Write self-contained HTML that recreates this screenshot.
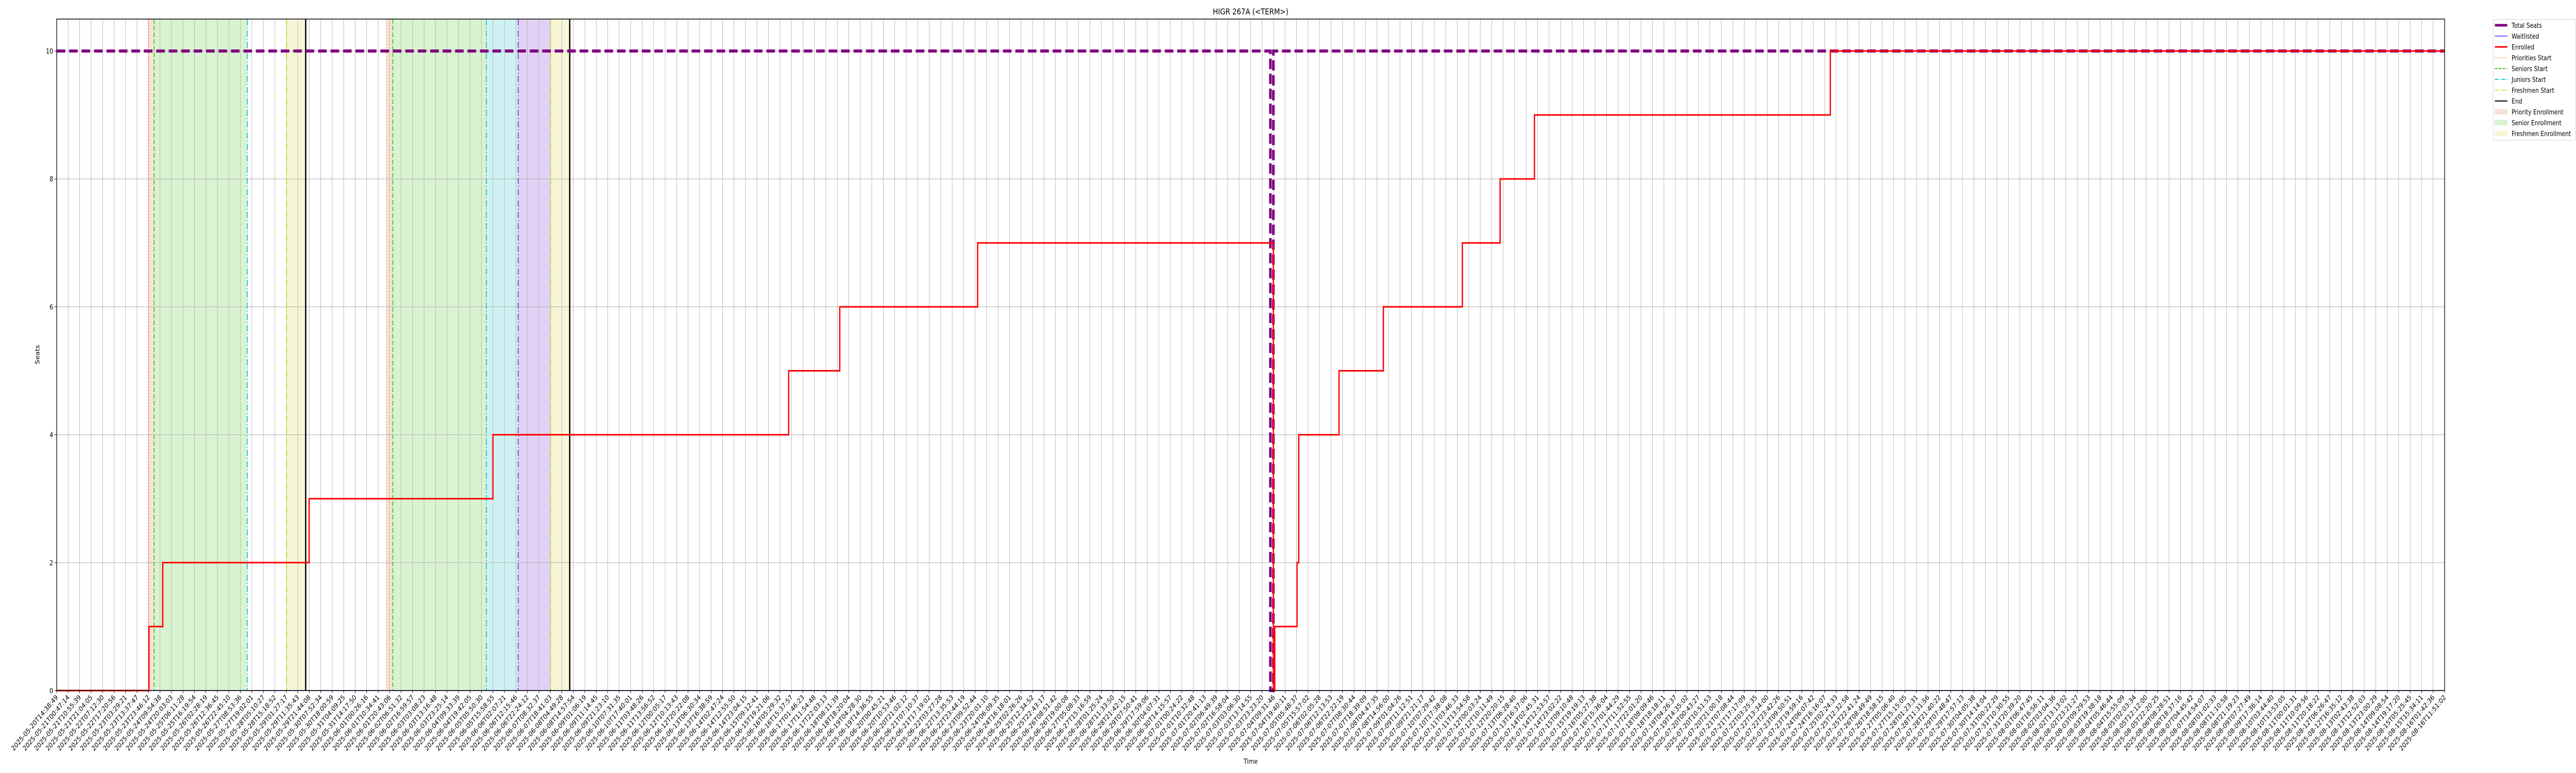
<!DOCTYPE html>
<html><head><meta charset="utf-8"><style>
html,body{margin:0;padding:0;background:#fff;width:100%;height:100%;overflow:hidden;}
svg{display:block;font-family:"DejaVu Sans","Liberation Sans",sans-serif;overflow:hidden;position:absolute;left:0;top:0;width:100vw;height:100vh;}
</style></head><body>
<svg id="chart" viewBox="0 0 6000 1500" preserveAspectRatio="none" xmlns="http://www.w3.org/2000/svg">
<g id="shades"></g>
<g id="grid"></g>
<g id="events"></g>
<g id="series"></g>
<rect x="132" y="37" width="5562" height="1303" fill="none" stroke="#000" stroke-width="1.5"/>
<g id="axes"></g>
<text x="2913" y="28" font-size="16" text-anchor="middle">HIGR 267A (&lt;TERM&gt;)</text>
<text x="2913" y="1482" font-size="13.5" text-anchor="middle">Time</text>
<text x="0" y="0" font-size="13.5" text-anchor="middle" transform="translate(92,688) rotate(-90)">Seats</text>
<g id="legend"></g>
</svg>
<script>
// ---- data (x in tick-index units) ----
const tickStart = "2025-05-20T14:38:49";
const tickEnd = "2025-08-16T11:51:02";
const tickCount = 209;
const yTicks = [0, 2, 4, 6, 8, 10];
const enrolledX = [0, 8.04, 9.24, 21.99, 38.0, 63.76, 68.21, 80.22, 105.98, 106.1, 108.04, 108.19, 111.7, 115.56, 122.44, 125.73, 128.72, 154.49, 208];
const enrolledY = [0, 1, 2, 3, 4, 5, 6, 7, 0, 1, 2, 4, 5, 6, 7, 8, 9, 10, 10];
const seatsX = [0, 105.72, 105.72, 105.98, 105.98, 208];
const seatsY = [10, 10, 0, 0, 10, 10];
const waitX = [8.04, 208];
const waitY = [0, 0];
const priorityStarts = [7.97, 28.72];
const seniorStarts = [8.49, 29.28];
const juniorStarts = [16.6, 37.43];
const sophStarts = [40.2];
const freshStarts = [20.04, 43.04];
const endTimes = [21.69, 44.69];
const priorityBands = [[7.97, 8.49], [28.72, 29.28]];
const seniorBands = [[8.49, 16.6], [29.28, 37.43]];
const juniorBands = [[37.43, 40.2]];
const sophBands = [[40.2, 43.04]];
const freshBands = [[20.04, 21.69], [43.04, 44.69]];

const NS = "http://www.w3.org/2000/svg";
const L = 132, R = 5694, T = 37, B = 1340;
const X = i => L + (R - L) * i / (tickCount - 1);
const Y = v => B - (B - T) * v / 10.5;
function mk(tag, attrs, parent) { const e = document.createElementNS(NS, tag); for (const k in attrs) e.setAttribute(k, attrs[k]); parent.appendChild(e); return e; }

const t0 = Date.parse(tickStart + "Z"), t1 = Date.parse(tickEnd + "Z");
const tickLabels = [];
for (let i = 0; i < tickCount; i++) { const d = new Date(t0 + (t1 - t0) * i / (tickCount - 1)); tickLabels.push(d.toISOString().slice(0, 19)); }

const shades = document.getElementById('shades');
function bands(arr, color, name) { arr.forEach(b => { const r = mk('rect', { x: X(b[0]), y: T, width: X(b[1]) - X(b[0]), height: B - T, fill: color }, shades);
 
  }); }
bands(priorityBands, '#f7e1d6', 'priority-enrollment-band');
bands(seniorBands, '#d9f3d1', 'senior-enrollment-band');
bands(juniorBands, '#cff1f3', 'junior-enrollment-band');
bands(sophBands, '#e1d1f4', 'sophomore-enrollment-band');
bands(freshBands, '#f6f6d6', 'freshmen-enrollment-band');

const grid = document.getElementById('grid'), axes = document.getElementById('axes');
for (let i = 0; i < tickCount; i++) {
  const x = X(i);
  const g = mk('line', { x1: x, x2: x, y1: T, y2: B, stroke: '#b0b0b0', 'stroke-width': 1 }, grid);
  
  
  const tk = mk('line', { x1: x, x2: x, y1: B, y2: B + 5, stroke: '#000', 'stroke-width': 1 }, axes);
  
  
  const tx = mk('text', { x: 0, y: 0, 'font-size': 13.5, 'text-anchor': 'end', transform: `translate(${x + 4},${B + 14}) rotate(-45)` }, axes);
  tx.textContent = tickLabels[i];
  
  
}
yTicks.forEach(v => {
  const y = Y(v);
  const g = mk('line', { x1: L, x2: R, y1: y, y2: y, stroke: '#b0b0b0', 'stroke-width': 1 }, grid);
  
  
  const tk = mk('line', { x1: L - 5, x2: L, y1: y, y2: y, stroke: '#000', 'stroke-width': 1 }, axes);
  
  
  const tx = mk('text', { x: L - 8, y: y + 5, 'font-size': 13.5, 'text-anchor': 'end' }, axes);
  tx.textContent = v;
  
  
});

const events = document.getElementById('events');
function vlines(arr, color, dash, w, name) { arr.forEach(v => { const l = mk('line', { x1: X(v), x2: X(v), y1: T, y2: B, stroke: color, 'stroke-width': w, 'stroke-dasharray': dash }, events);
 
  }); }
vlines(priorityStarts, '#ee7733', '2,4', 1.6, 'priorities-start-line');
vlines(seniorStarts, '#33cc11', '9,4', 2, 'seniors-start-line');
vlines(juniorStarts, '#11c5d0', '12,4,2,4', 2, 'juniors-start-line');
vlines(sophStarts, '#7733dd', '12,4,2,4', 2, 'sophomores-start-line');
vlines(freshStarts, '#dddd33', '12,4,2,4', 2, 'freshmen-start-line');
vlines(endTimes, '#000', 'none', 3, 'end-line');

const series = document.getElementById('series');
function stepPath(xs, ys) { let d = `M${X(xs[0])},${Y(ys[0])}`; for (let i = 1; i < xs.length; i++) { d += ` L${X(xs[i])},${Y(ys[i - 1])} L${X(xs[i])},${Y(ys[i])}`; } return d; }
function linePath(xs, ys) { return xs.map((x, i) => (i ? 'L' : 'M') + X(x) + ',' + Y(ys[i])).join(' '); }
const sp = mk('path', { d: linePath(seatsX, seatsY), fill: 'none', stroke: '#800080', 'stroke-width': 6, 'stroke-dasharray': '20,9' }, series);


const wp = mk('path', { d: linePath(waitX, waitY), fill: 'none', stroke: '#3333ff', 'stroke-width': 1.5 }, series);


const ep = mk('path', { d: stepPath(enrolledX, enrolledY), fill: 'none', stroke: '#ff0000', 'stroke-width': 3 }, series);



const lg = document.getElementById('legend');
const lb = mk('rect', { x: 5807, y: 38, width: 192, height: 234, rx: 3, fill: '#fff', stroke: '#d0d0d0', 'stroke-width': 1 }, lg);


const entries = [
  ['Total Seats', 'line', '#800080', 5, 'none'],
  ['Waitlisted', 'line', '#3333ff', 1.5, 'none'],
  ['Enrolled', 'line', '#ff0000', 3, 'none'],
  ['Priorities Start', 'line', '#ee7733', 1.6, '2,3'],
  ['Seniors Start', 'line', '#33cc11', 2, '6,3'],
  ['Juniors Start', 'line', '#11c5d0', 2, '8,3,2,3'],
  ['Freshmen Start', 'line', '#dddd33', 2, '8,3,2,3'],
  ['End', 'line', '#000', 2, 'none'],
  ['Priority Enrollment', 'rect', '#f7e1d6'],
  ['Senior Enrollment', 'rect', '#d9f3d1'],
  ['Freshmen Enrollment', 'rect', '#f6f6d6']
];
entries.forEach((e, i) => {
  const y = 49 + i * 21;
  const g = mk('g', {}, lg);
  
  
  if (e[1] === 'line') mk('line', { x1: 5811, x2: 5840, y1: y, y2: y, stroke: e[2], 'stroke-width': e[3], 'stroke-dasharray': e[4] }, g);
  else mk('rect', { x: 5811, y: y - 5, width: 29, height: 10, fill: e[2], stroke: e[2] }, g);
  const t = mk('text', { x: 5850, y: y + 5, 'font-size': 13 }, g);
  t.textContent = e[0];
});
</script>
</body></html>
